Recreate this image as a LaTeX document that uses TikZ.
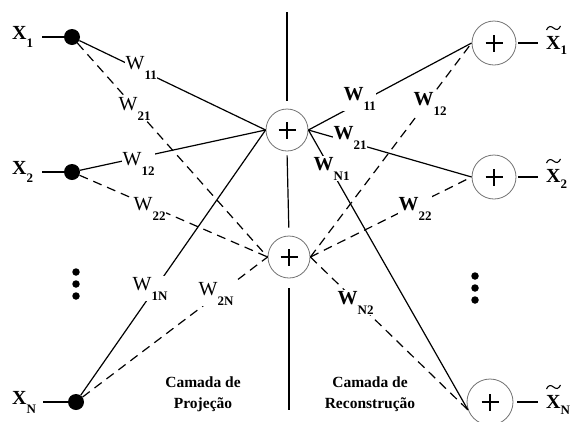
\documentclass[tikz,border=0pt]{standalone}
\usepackage{fontspec}
\setmainfont{Liberation Serif}
\newcommand{\Wsub}[1]{W\raisebox{-10pt}{\fontsize{13}{13}\selectfont\bfseries #1}}
\newcommand{\Xsub}[2]{X\raisebox{-#2}{\fontsize{13}{13}\selectfont\bfseries #1}}
\newcommand{\tildeat}[2]{\begin{scope}[shift={(#1,#2)}]
  \draw[line width=1.1pt] (0.5,4) .. controls (2.5,-0.5) and (5,0) .. (7.5,2) .. controls (10,4) and (12.5,4.5) .. (14.5,0);
  \end{scope}}
\begin{document}
\begin{tikzpicture}[x=1pt,y=-1pt,
  sumnode/.style={circle,draw=black!55,line width=0.8pt,minimum size=#1,inner sep=0pt,fill=white,
   path picture={\draw[line width=1.3pt,black]
     ([xshift=-8.5pt]path picture bounding box.center) -- ([xshift=8.5pt]path picture bounding box.center)
     ([yshift=-8.5pt]path picture bounding box.center) -- ([yshift=8.5pt]path picture bounding box.center);}},
  innode/.style={circle,fill=black,minimum size=16pt,inner sep=0pt},
  edot/.style={circle,fill=black,minimum size=7.5pt,inner sep=0pt},
  conn/.style={line width=1.2pt},
  dconn/.style={line width=1.2pt,dash pattern=on 9pt off 6pt},
  wl/.style={anchor=base west,fill=white,inner sep=0.5pt,font=\fontsize{20}{20}\selectfont},
  wr/.style={anchor=base west,fill=white,inner sep=0.5pt,font=\fontsize{20}{20}\selectfont\bfseries},
  xl/.style={anchor=base west,inner sep=0pt,font=\fontsize{20}{20}\selectfont\bfseries},
  capt/.style={align=center,font=\fontsize{15.5}{21}\selectfont\bfseries}
]
\useasboundingbox (0,0) rectangle (575,421);

% input nodes
\node[innode] (x1) at (72,37) {};
\node[innode] (x2) at (72,172) {};
\node[innode] (xN) at (76,402) {};
\coordinate (a1) at (42,37);
\coordinate (a2) at (42,172);
\coordinate (aN) at (43,402);
\draw[conn] (a1) -- (x1);
\draw[conn] (a2) -- (x2);
\draw[conn] (aN) -- (xN);
\node[xl] (lx1) at (12,39) {\Xsub{1}{8pt}};
\node[xl] (lx2) at (12,174) {\Xsub{2}{8pt}};
\node[xl] (lxN) at (12,404) {\Xsub{N}{9pt}};

% vertical ellipses
\node[edot] (d1) at (76,272) {};
\node[edot] (d2) at (76,284) {};
\node[edot] (d3) at (76,296) {};
\node[edot] (e1) at (475,276) {};
\node[edot] (e2) at (475,288) {};
\node[edot] (e3) at (475,300) {};

% hidden (projection) nodes
\node[sumnode=42pt] (h1) at (287,130) {};
\node[sumnode=42pt] (h2) at (289,257) {};

% output nodes
\node[sumnode=44pt] (y1) at (494,43) {};
\node[sumnode=44pt] (y2) at (494,177) {};
\node[sumnode=46pt] (yN) at (490,402) {};

% vertical separator
\coordinate (vt) at (287,12);
\coordinate (vb) at (289,410);
\draw[conn] (vt) -- (h1.north) [shorten >=8pt];
\draw[conn,shorten <=4pt,shorten >=8pt] (h1.south) -- (h2.north);
\draw[conn,shorten <=10pt] (h2.south) -- (vb);

% left connections
\draw[conn] (x1) -- (h1.west);
\draw[conn] (x2) -- (h1.west);
\draw[conn] (xN) -- (h1.west);
\draw[dconn] (x1) -- (h2.west);
\draw[dconn] (x2) -- (h2.west);
\draw[dconn] (xN) -- (h2.west);

% right connections
\draw[conn] (h1.east) -- (y1.west);
\draw[conn] (h1.east) -- (y2.west);
\draw[conn] (h1.east) -- (yN.200);
\draw[dconn] (h2.east) -- (y1.west);
\draw[dconn] (h2.east) -- (y2.west);
\draw[dconn] (h2.east) -- (yN.200);

% output lines
\coordinate (b1) at (538,43);
\coordinate (b2) at (538,177);
\coordinate (bN) at (538,402);
\draw[conn,shorten <=2pt] (y1.east) -- (b1);
\draw[conn,shorten <=2pt] (y2.east) -- (b2);
\draw[conn,shorten <=4pt] (yN.east) -- (bN);
\node[xl] (ly1) at (546,49) {\Xsub{1}{5pt}};
\node[xl] (ly2) at (546,182) {\Xsub{2}{6pt}};
\node[xl] (lyN) at (546,408) {\Xsub{N}{6pt}};
\tildeat{546}{26}
\tildeat{546}{159}
\tildeat{546}{385}

% weight labels, left
\node[wl] (w11a) at (125,69) {\Wsub{11}};
\node[wl] (w21a) at (118,110) {\Wsub{21}};
\node[wl] (w12a) at (122,165) {\Wsub{12}};
\node[wl] (w22a) at (133,210) {\Wsub{22}};
\node[wl] (w1Na) at (132,290) {\Wsub{1N}};
\node[wl] (w2Na) at (198,295) {\Wsub{2N}};

% weight labels, right
\node[wr] (w11b) at (343,100) {\Wsub{11}};
\node[wr] (w21b) at (333,139) {\Wsub{21}};
\node[wr] (wN1b) at (313,170) {\Wsub{N1}};
\node[wr] (w12b) at (413,105) {\Wsub{12}};
\node[wr] (w22b) at (398,210) {\Wsub{22}};
\node[wr] (wN2b) at (337,304) {\Wsub{N2}};

% layer captions
\node[capt] (cp) at (203,394) {Camada de\\Projeção};
\node[capt] (cr) at (370,394) {Camada de\\Reconstrução};
\end{tikzpicture}
\end{document}
